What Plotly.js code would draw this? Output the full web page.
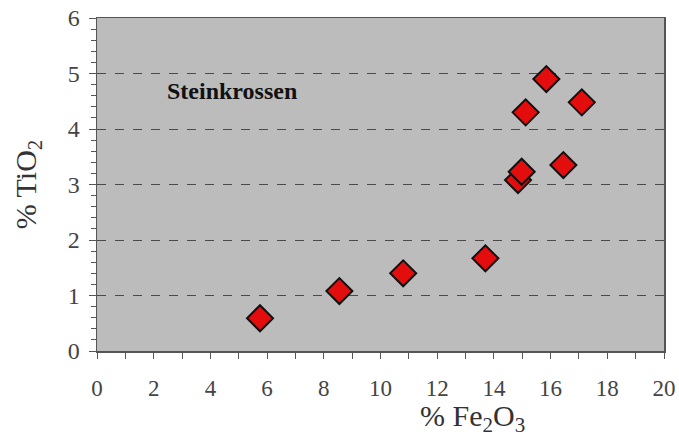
<!DOCTYPE html>
<html><head><meta charset="utf-8">
<script src="https://cdn.plot.ly/plotly-3.0.1.min.js"></script>
<style>html,body{margin:0;padding:0;background:#fff}#chart{width:679px;height:436px}</style>
</head><body><div id="chart"></div>
<script>
const fe2o3 = [5.75, 8.55, 10.8, 13.7, 14.85, 14.98, 15.12, 15.85, 16.45, 17.1];
const tio2  = [0.59, 1.08, 1.40, 1.67, 3.08, 3.23, 4.30, 4.90, 3.35, 4.48];
const label = "Steinkrossen";
const font = 'Liberation Serif';
const trace = {
  x: fe2o3, y: tio2, type: 'scatter', mode: 'markers',
  marker: {symbol: 'diamond', size: 20, color: '#e30d0d', line: {color: '#111', width: 2}},
  hoverinfo: 'skip'
};
const layout = {
  width: 679, height: 436,
  margin: {l: 97, r: 15, t: 18, b: 85},
  paper_bgcolor: '#ffffff', plot_bgcolor: '#bcbcbc',
  showlegend: false,
  font: {family: font, color: '#3a3a3a'},
  xaxis: {
    range: [0, 20], dtick: 2, tick0: 0, ticks: 'outside', ticklen: 6, tickcolor: '#555',
    minor: {dtick: 1, ticks: 'outside', ticklen: 6, tickcolor: '#555', showgrid: false},
    showgrid: false, zeroline: false, showline: true, linecolor: '#555', linewidth: 1.5, mirror: true,
    ticklabelstandoff: 10,
    tickfont: {family: font, size: 23, color: '#444'}, fixedrange: true
  },
  yaxis: {
    range: [0, 6], dtick: 1, tick0: 0, ticks: 'outside', ticklen: 7, tickcolor: '#555',
    minor: {dtick: 0.2, ticks: 'outside', ticklen: 5, tickcolor: '#555', showgrid: false},
    showgrid: true, gridcolor: '#4a4a4a', griddash: 'dash', gridwidth: 1,
    zeroline: false, showline: true, linecolor: '#555', linewidth: 1.5, mirror: true,
    ticklabelstandoff: 4,
    tickfont: {family: font, size: 24, color: '#444'},
    title: {text: '% TiO<sub>2</sub>', font: {family: font, size: 30, color: '#333'}, standoff: 22},
    fixedrange: true
  },
  annotations: [
    {xref: 'paper', yref: 'paper', x: 0.663, y: -0.2, xanchor: 'center', yanchor: 'middle', showarrow: false,
     text: '% Fe<sub>2</sub>O<sub>3</sub>', font: {family: font, size: 30, color: '#333'}},
    {xref: 'x', yref: 'y', x: 2.4, y: 4.68, xanchor: 'left', yanchor: 'middle', showarrow: false,
     text: '<b>' + label + '</b>', font: {family: font, size: 24, color: '#111'}}
  ]
};
Plotly.newPlot('chart', [trace], layout, {displayModeBar: false, staticPlot: true});
</script></body></html>
